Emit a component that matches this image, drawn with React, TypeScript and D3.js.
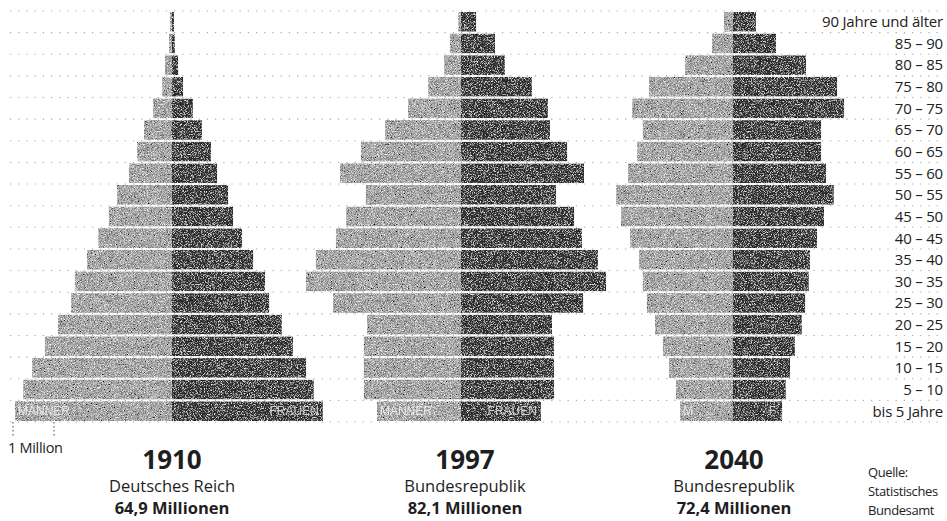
import React from 'react';
import * as d3 from 'd3';

const width = 947;
const height = 521;

// age groups, bottom to top
const ageGroups = [
  'bis 5 Jahre', '5 – 10', '10 – 15', '15 – 20', '20 – 25', '25 – 30', '30 – 35',
  '35 – 40', '40 – 45', '45 – 50', '50 – 55', '55 – 60', '60 – 65', '65 – 70',
  '70 – 75', '75 – 80', '80 – 85', '85 – 90', '90 Jahre und älter',
];

// millions, same order as ageGroups
const men1910 = [3.83, 3.63, 3.41, 3.10, 2.78, 2.46, 2.37, 2.07, 1.80, 1.54, 1.34, 1.05, 0.85, 0.68, 0.46, 0.24, 0.17, 0.07, 0.05];
const women1910 = [3.68, 3.46, 3.27, 2.95, 2.68, 2.37, 2.27, 1.98, 1.71, 1.49, 1.37, 1.10, 0.95, 0.73, 0.51, 0.27, 0.15, 0.07, 0.05];
const men1997 = [2.05, 2.37, 2.37, 2.37, 2.29, 3.12, 3.78, 3.54, 3.05, 2.80, 2.32, 2.95, 2.44, 1.85, 1.29, 0.80, 0.41, 0.27, 0.07];
const women1997 = [1.95, 2.27, 2.27, 2.27, 2.22, 2.98, 3.54, 3.34, 2.95, 2.76, 2.32, 3.00, 2.59, 2.17, 2.12, 1.73, 1.07, 0.83, 0.37];
const men2040 = [1.29, 1.39, 1.56, 1.71, 1.90, 2.10, 2.20, 2.29, 2.51, 2.73, 2.85, 2.56, 2.34, 2.20, 2.46, 2.05, 1.17, 0.51, 0.22];
const women2040 = [1.20, 1.29, 1.39, 1.51, 1.68, 1.76, 1.85, 1.88, 2.05, 2.22, 2.46, 2.27, 2.15, 2.15, 2.71, 2.54, 1.78, 1.05, 0.56];

const years = ['1910', '1997', '2040'];
const regions = ['Deutsches Reich', 'Bundesrepublik', 'Bundesrepublik'];
const totals = ['64,9 Millionen', '82,1 Millionen', '72,4 Millionen'];
const menLabels = ['MÄNNER', 'MÄNNER', 'M'];
const womenLabels = ['FRAUEN', 'FRAUEN', 'F'];
const sourceLines = ['Quelle:', 'Statistisches', 'Bundesamt'];

const pyramids = [
  { men: men1910, women: women1910 },
  { men: men1997, women: women1997 },
  { men: men2040, women: women2040 },
];

// layout
const centers = [172, 461, 733];
const titleCenters = [172, 465, 734];
const font = '"Open Sans", "Noto Sans", sans-serif';

const App = () => {
  const y = d3.scaleBand<string>().domain(ageGroups).range([421, 12]).paddingInner(0.09);
  const x = d3.scaleLinear().domain([0, 1]).range([0, 41]); // px per million
  const bw = y.bandwidth();
  const gap = y.step() - bw;

  const gridYs = ageGroups.map(a => (y(a) as number) - gap / 2);
  gridYs.push((y(ageGroups[0]) as number) + bw + gap / 2);

  return (
    <svg width={width} height={height} style={{ position: 'absolute', left: 0, top: 0, background: '#fff' }}>
      <defs>
        <filter id="grain" filterUnits="userSpaceOnUse" x="0" y="0" width={width} height={height}>
          <feTurbulence type="fractalNoise" baseFrequency="1.3" numOctaves="1" seed="4" result="noise" />
          <feColorMatrix in="noise" type="matrix"
            values="0.85 0.85 0.85 0 -0.78  0.85 0.85 0.85 0 -0.78  0.85 0.85 0.85 0 -0.78  0 0 0 0 1" result="gray" />
          <feBlend in="SourceGraphic" in2="gray" mode="overlay" result="blend" />
          <feComposite in="blend" in2="SourceAlpha" operator="in" />
        </filter>
      </defs>

      {gridYs.map((gy, i) => (
        <line key={i} x1={10} x2={945} y1={gy} y2={gy} stroke="#a8a8a8" strokeWidth={1.1} strokeDasharray="1.2 7" />
      ))}

      <g filter="url(#grain)">
        {pyramids.map((p, pi) => (
          <g key={pi} transform={`translate(${centers[pi]},0)`}>
            {ageGroups.map((a, i) => (
              <g key={a}>
                <rect x={-x(p.men[i])} y={y(a)} width={x(p.men[i])} height={bw} fill="#a6a6a6" />
                <rect x={0} y={y(a)} width={x(p.women[i])} height={bw} fill="#363636" />
              </g>
            ))}
          </g>
        ))}
      </g>

      {pyramids.map((p, pi) => {
        const by = (y(ageGroups[0]) as number) + bw / 2;
        return (
          <g key={pi} transform={`translate(${centers[pi]},0)`} fontFamily='"Liberation Sans", Arial, sans-serif' fontSize={12}>
            <text x={-x(p.men[0]) + 3} y={by} dy="0.36em" fill="#f2f2f2" opacity={0.85}>{menLabels[pi]}</text>
            <text x={x(p.women[0]) - (pi === 2 ? 6 : 4)} y={by} dy="0.36em" textAnchor="end" fill="#dcdcdc" opacity={0.9}>{womenLabels[pi]}</text>
          </g>
        );
      })}

      {ageGroups.map(a => (
        <text key={a} x={943} y={(y(a) as number) + bw / 2} dy="0.36em" textAnchor="end"
          fontFamily={font} fontSize={15} fill="#222" letterSpacing={-0.2}>{a}</text>
      ))}

      {/* scale: 1 Million */}
      <g stroke="#666" strokeWidth={1.2} strokeDasharray="1.5 2.5">
        <line x1={13} x2={13} y1={422} y2={437} />
        <line x1={13 + x(1)} x2={13 + x(1)} y1={422} y2={437} />
      </g>
      <text x={8} y={453} fontFamily={font} fontSize={14.5} fill="#222" letterSpacing={-0.3}>1 Million</text>

      {years.map((yr, i) => (
        <g key={yr} textAnchor="middle" fontFamily={font} fill="#1e1e1e">
          <text x={titleCenters[i]} y={469} fontSize={26} fontWeight="bold">{yr}</text>
          <text x={titleCenters[i]} y={492} fontSize={16.5}>{regions[i]}</text>
          <text x={titleCenters[i]} y={514} fontSize={16.5} fontWeight="bold">{totals[i]}</text>
        </g>
      ))}

      {sourceLines.map((s, i) => (
        <text key={s} x={868} y={477 + i * 19} fontFamily={font} fontSize={13} fill="#222" letterSpacing={-0.4}>{s}</text>
      ))}
    </svg>
  );
};

export default App;
